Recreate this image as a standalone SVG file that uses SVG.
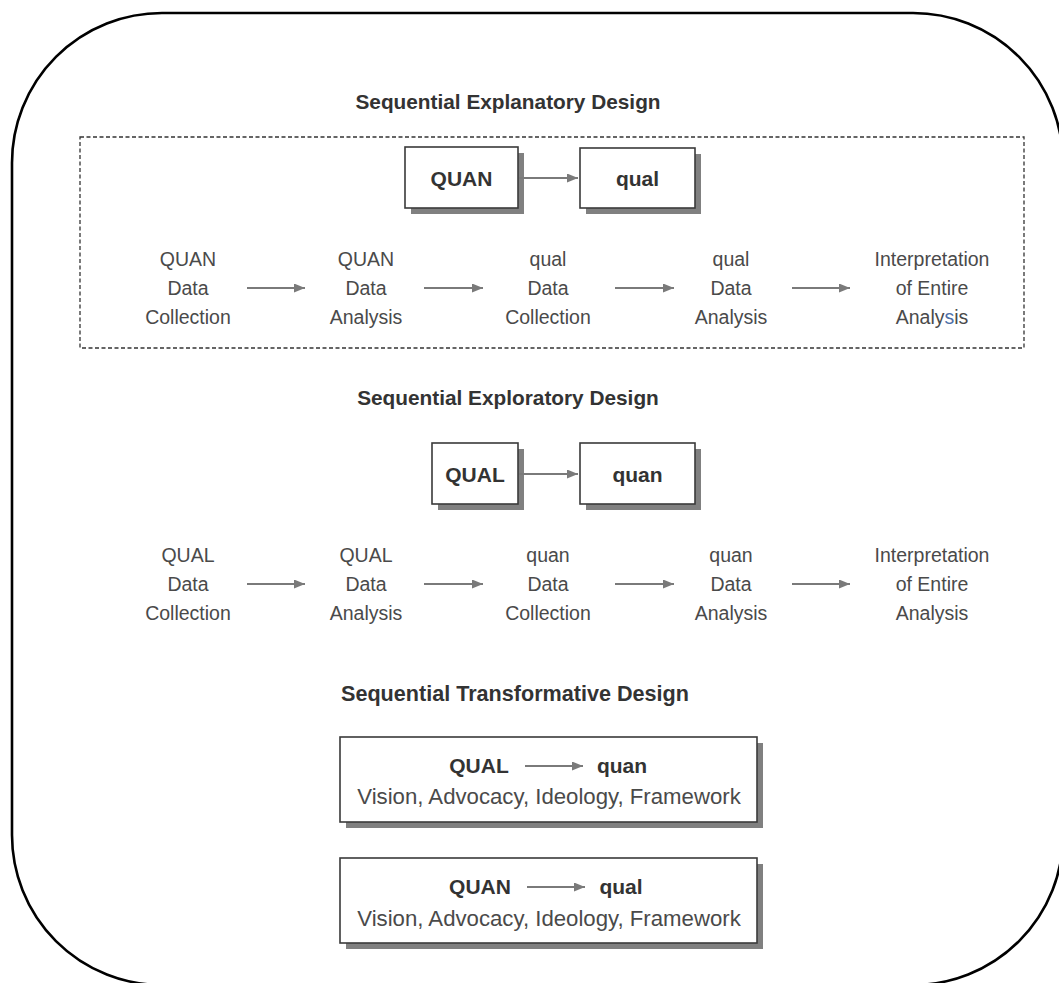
<svg xmlns="http://www.w3.org/2000/svg" width="1059" height="983" viewBox="0 0 1059 983">
  <defs>
    <marker id="arrowHead" viewBox="0 0 11 9" refX="11" refY="4.5" markerWidth="11" markerHeight="9" markerUnits="userSpaceOnUse" orient="auto">
      <path d="M0,0 L11,4.5 L0,9 z" fill="#7a7a7a"/>
    </marker>
  </defs>
  <style>
    .frame { fill: #ffffff; stroke: #000000; stroke-width: 2.6; }
    .dashed { fill: none; stroke: #333333; stroke-width: 1.3; stroke-dasharray: 4 2.5; }
    .title { font-family: "Liberation Sans", Arial, sans-serif; font-weight: bold; font-size: 20.8px; fill: #333333; text-anchor: middle; }
    .boxText { font-family: "Liberation Sans", Arial, sans-serif; font-weight: bold; font-size: 21px; fill: #333333; text-anchor: middle; }
    .step { font-family: "Liberation Sans", Arial, sans-serif; font-size: 19.5px; fill: #4a4a4a; text-anchor: middle; }
    .frameText { font-family: "Liberation Sans", Arial, sans-serif; font-size: 22.2px; fill: #4a4a4a; text-anchor: middle; }
    .box { fill: #ffffff; stroke: #3a3a3a; stroke-width: 1.6; }
    .shadow { fill: #808080; }
    .conn { stroke: #7a7a7a; stroke-width: 2; fill: none; marker-end: url(#arrowHead); }
  </style>

  <rect width="1059" height="983" fill="#ffffff"/>
  <!-- outer rounded frame -->
  <rect class="frame" x="12" y="13" width="1051" height="972" rx="150" ry="150"/>

  <!-- section titles -->
  <g id="title-explanatory"><text class="title" x="508" y="109">Sequential Explanatory Design</text></g>
  <g id="title-exploratory"><text class="title" x="508" y="405">Sequential Exploratory Design</text></g>
  <g id="title-transformative"><text class="title" x="515" y="701" style="font-size:21.6px">Sequential Transformative Design</text></g>

  <!-- dashed grouping around the explanatory design -->
  <rect id="explanatory-group" class="dashed" x="80" y="137" width="944" height="211"/>

  <!-- explanatory design boxes -->
  <g id="box-QUAN-1">
    <rect class="shadow" x="411" y="153" width="113" height="61"/>
    <rect class="box" x="405" y="147" width="113" height="61"/>
    <text class="boxText" x="461.5" y="186">QUAN</text>
  </g>
  <g id="box-qual-1">
    <rect class="shadow" x="586" y="154" width="115" height="60"/>
    <rect class="box" x="580" y="148" width="115" height="60"/>
    <text class="boxText" x="637.5" y="186">qual</text>
  </g>

  <!-- explanatory design steps -->
  <g id="step-1-1"><text class="step" x="188" y="266">QUAN<tspan x="188" dy="29">Data</tspan><tspan x="188" dy="29">Collection</tspan></text></g>
  <g id="step-1-2"><text class="step" x="366" y="266">QUAN<tspan x="366" dy="29">Data</tspan><tspan x="366" dy="29">Analysis</tspan></text></g>
  <g id="step-1-3"><text class="step" x="548" y="266">qual<tspan x="548" dy="29">Data</tspan><tspan x="548" dy="29">Collection</tspan></text></g>
  <g id="step-1-4"><text class="step" x="731" y="266">qual<tspan x="731" dy="29">Data</tspan><tspan x="731" dy="29">Analysis</tspan></text></g>
  <g id="step-1-5"><text class="step" x="932" y="266">Interpretation<tspan x="932" dy="29">of Entire</tspan><tspan x="932" dy="29">Analy<tspan fill="#4d6fa8">s</tspan>is</tspan></text></g>

  <!-- exploratory design boxes -->
  <g id="box-QUAL-2">
    <rect class="shadow" x="438" y="449" width="86" height="61"/>
    <rect class="box" x="432" y="443" width="86" height="61"/>
    <text class="boxText" x="475" y="482">QUAL</text>
  </g>
  <g id="box-quan-2">
    <rect class="shadow" x="586" y="449" width="115" height="61"/>
    <rect class="box" x="580" y="443" width="115" height="61"/>
    <text class="boxText" x="637.5" y="482">quan</text>
  </g>

  <!-- exploratory design steps -->
  <g id="step-2-1"><text class="step" x="188" y="562">QUAL<tspan x="188" dy="29">Data</tspan><tspan x="188" dy="29">Collection</tspan></text></g>
  <g id="step-2-2"><text class="step" x="366" y="562">QUAL<tspan x="366" dy="29">Data</tspan><tspan x="366" dy="29">Analysis</tspan></text></g>
  <g id="step-2-3"><text class="step" x="548" y="562">quan<tspan x="548" dy="29">Data</tspan><tspan x="548" dy="29">Collection</tspan></text></g>
  <g id="step-2-4"><text class="step" x="731" y="562">quan<tspan x="731" dy="29">Data</tspan><tspan x="731" dy="29">Analysis</tspan></text></g>
  <g id="step-2-5"><text class="step" x="932" y="562">Interpretation<tspan x="932" dy="29">of Entire</tspan><tspan x="932" dy="29">Analysis</tspan></text></g>

  <!-- transformative design boxes -->
  <g id="box-transform-1">
    <rect class="shadow" x="346" y="743" width="417" height="85"/>
    <rect class="box" x="340" y="737" width="417" height="85"/>
    <text class="boxText" x="479" y="773">QUAL</text>
    <text class="boxText" x="622" y="773">quan</text>
    <text class="frameText" x="549" y="804">Vision, Advocacy, Ideology, Framework</text>
  </g>
  <g id="box-transform-2">
    <rect class="shadow" x="346" y="864" width="417" height="85"/>
    <rect class="box" x="340" y="858" width="417" height="85"/>
    <text class="boxText" x="480" y="894">QUAN</text>
    <text class="boxText" x="621" y="894">qual</text>
    <text class="frameText" x="549" y="926">Vision, Advocacy, Ideology, Framework</text>
  </g>

  <!-- connectors -->
  <g id="connectors">
    <line class="conn" x1="519" y1="178" x2="578" y2="178"/>
    <line class="conn" x1="247" y1="288" x2="305" y2="288"/>
    <line class="conn" x1="424" y1="288" x2="483" y2="288"/>
    <line class="conn" x1="615" y1="288" x2="674" y2="288"/>
    <line class="conn" x1="792" y1="288" x2="850" y2="288"/>

    <line class="conn" x1="519" y1="474" x2="578" y2="474"/>
    <line class="conn" x1="247" y1="584" x2="305" y2="584"/>
    <line class="conn" x1="424" y1="584" x2="483" y2="584"/>
    <line class="conn" x1="615" y1="584" x2="674" y2="584"/>
    <line class="conn" x1="792" y1="584" x2="850" y2="584"/>

    <line class="conn" x1="525" y1="766" x2="583" y2="766"/>
    <line class="conn" x1="527" y1="887" x2="585" y2="887"/>
  </g>
</svg>
